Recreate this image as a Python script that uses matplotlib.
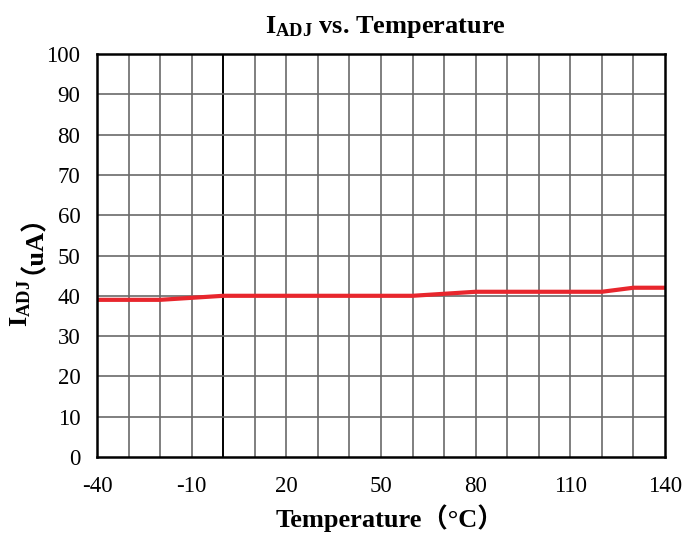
import matplotlib
matplotlib.use("Agg")
import matplotlib.pyplot as plt

# Data
temp = [-40, -30, -20, -10, 0, 10, 20, 30, 40, 50, 60, 70, 80, 90, 100, 110, 120, 130, 140]
i_adj = [39, 39, 39, 39.5, 40, 40, 40, 40, 40, 40, 40, 40.5, 41, 41, 41, 41, 41, 42, 42]

x_ticks = [-40, -10, 20, 50, 80, 110, 140]
y_ticks = list(range(0, 101, 10))

SERIF = ["Liberation Serif", "Noto Sans CJK SC"]
plt.rcParams["font.family"] = SERIF
plt.rcParams["axes.unicode_minus"] = False
plt.rcParams["mathtext.fontset"] = "custom"
plt.rcParams["mathtext.rm"] = "Liberation Serif:bold"
plt.rcParams["mathtext.bf"] = "Liberation Serif:bold"
plt.rcParams["mathtext.it"] = "Liberation Serif:bold"

fig = plt.figure(figsize=(6.86, 5.36), dpi=100)
ax = fig.add_axes([97 / 686, 79 / 536, 568 / 686, 403 / 536])

# grid every 10 units, the 0 °C line is drawn darker
for xv in range(-30, 140, 10):
    ax.axvline(xv, color="black" if xv == 0 else "#6a6a6a",
               linewidth=1.4 if xv == 0 else 1.2, zorder=1)
for yv in range(10, 100, 10):
    ax.axhline(yv, color="#6a6a6a", linewidth=1.2, zorder=1)

ax.plot(temp, i_adj, color="#e8262d", linewidth=3.0, zorder=3)

ax.set_xlim(-40, 140)
ax.set_ylim(0, 100)
ax.set_xticks(x_ticks)
ax.set_yticks(y_ticks)
ax.tick_params(length=0, labelsize=16.5)
ax.tick_params(axis="x", pad=14)
ax.tick_params(axis="y", pad=12)
for s in ax.spines.values():
    s.set_linewidth(1.8)
    s.set_zorder(4)

ax.set_title(r"$\mathrm{I_{ADJ}}$ vs. Temperature", fontsize=19,
             fontweight="bold", pad=15, x=0.507)
ax.set_xlabel("Temperature（°C）", fontsize=19, fontweight="bold", labelpad=5)
ax.xaxis.label.set_x(0.515)

# y label split so the full-width brackets can fall back to the CJK font;
# both pieces share one baseline
ax.text(-0.123, 0.442, r"$\mathrm{I_{ADJ}}$", transform=ax.transAxes,
        rotation=90, rotation_mode="anchor", ha="right", va="baseline",
        fontsize=19, fontweight="bold")
ax.text(-0.123, 0.453, "（uA）", transform=ax.transAxes,
        rotation=90, rotation_mode="anchor", ha="left", va="baseline",
        fontsize=19, fontweight="bold")

fig.savefig("out.png", dpi=100)
